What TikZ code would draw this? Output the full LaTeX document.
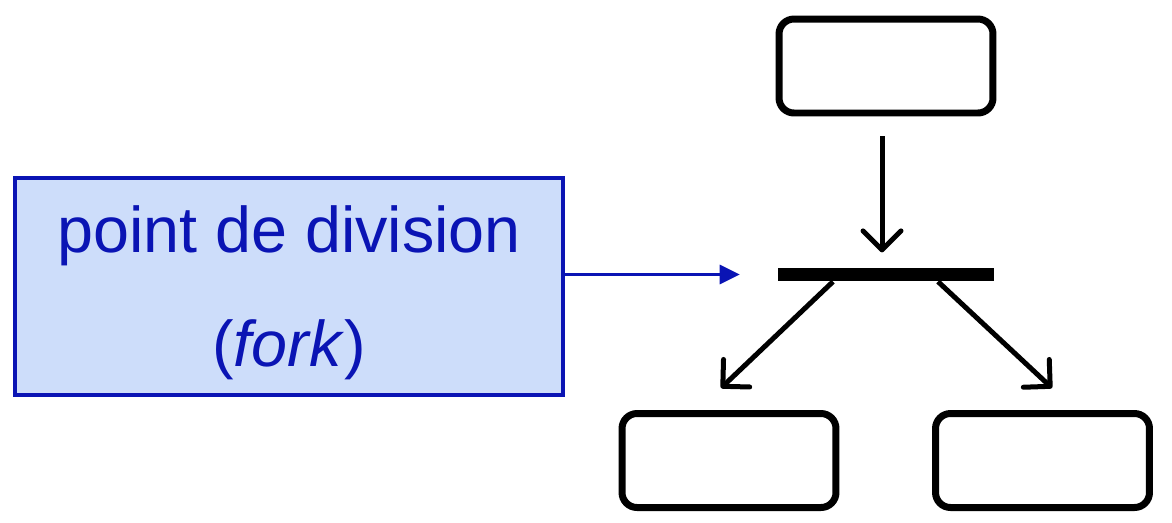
\documentclass[tikz,border=0pt]{standalone}
\usepackage{fontspec}
\setmainfont{Liberation Sans}
\usetikzlibrary{arrows.meta,positioning}
\definecolor{forkblue}{RGB}{10,20,180}
\definecolor{forkfill}{RGB}{205,221,250}

\begin{document}
\begin{tikzpicture}[
                x=0.02cm, y=-0.02cm,
                state/.style={draw, line width=0.14cm, rounded corners=0.3cm, inner sep=0pt,
                    minimum width=4.28cm, minimum height=1.88cm},
                bar/.style={fill, inner sep=0pt, minimum width=4.32cm, minimum height=0.27cm},
                flow/.style={line width=0.1cm, -{Straight Barb[length=0.38cm,width=0.76cm,round]}},
                note/.style={draw=forkblue, fill=forkfill, text=forkblue, line width=0.09cm,
                    minimum width=10.96cm, minimum height=4.34cm, align=center,
                    font=\fontsize{36.8}{65}\selectfont}
            ]
            \useasboundingbox (0,0) rectangle (1172,522);
            % activity boxes
            \node[state] (top) at (886,66) {};
            \node[bar] (fork) at (886,274.5) {};
            \node[state] (left) at (729,460.5) {};
            \node[state] (right) at (1042.5,460.5) {};
            % label
            \node[note] (label) at (289,286.5) {\rule{0pt}{1.18cm}point de division\\(\textit{fork})};

            \draw[flow, shorten <=0.4cm, shorten >=0.3cm] ([xshift=-0.08cm]top.south) -- ([xshift=-0.08cm]fork.north);
            \draw[flow] ([xshift=-1.06cm]fork.south) -- ([xshift=-0.16cm,yshift=0.44cm]left.north);
            \draw[flow] ([xshift=1.04cm]fork.south) -- ([xshift=0.19cm,yshift=0.44cm]right.north);
            \draw[forkblue, line width=0.06cm, -{Triangle[length=0.4cm,width=0.38cm]}]
                (label.east |- fork) -- ([xshift=-0.76cm]fork.west);
        \end{tikzpicture}
\end{document}
